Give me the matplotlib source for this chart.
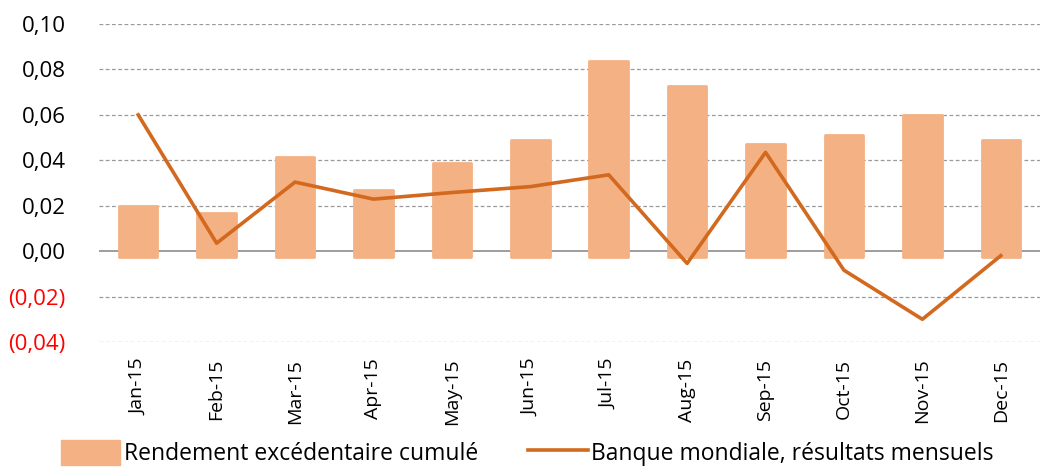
import numpy as np
import matplotlib.pyplot as plt
from matplotlib.lines import Line2D
from matplotlib.patches import Patch

plt.rcParams['font.family'] = ['Open Sans', 'DejaVu Sans']

months = ['Jan-15', 'Feb-15', 'Mar-15', 'Apr-15', 'May-15', 'Jun-15',
          'Jul-15', 'Aug-15', 'Sep-15', 'Oct-15', 'Nov-15', 'Dec-15']
cumul = [0.020, 0.017, 0.0414, 0.027, 0.0387, 0.049,
         0.0837, 0.0727, 0.047, 0.051, 0.060, 0.049]
mensuel = [0.060, 0.0035, 0.0304, 0.0229, 0.0258, 0.0284,
           0.0336, -0.0054, 0.0435, -0.0084, -0.030, -0.002]
yticks = [-0.04, -0.02, 0.0, 0.02, 0.04, 0.06, 0.08, 0.10]

bar_col = '#F4B183'
line_col = '#D2691E'

fig = plt.figure(figsize=(10.44, 4.68), dpi=100)
ax = fig.add_axes([99 / 1044, 1 - 342 / 468, (1040 - 99) / 1044, (342 - 24) / 468])

x = np.arange(len(months))
base = -0.0024  # bars hang a little below zero in the original
ax.bar(x, np.array(cumul) - base, bottom=base, width=0.49, color=bar_col,
       edgecolor=bar_col, linewidth=2, joinstyle='round', zorder=2)
ax.plot(x, mensuel, color=line_col, lw=2.6, zorder=3)

ax.set_xlim(-0.5, len(months) - 0.5)
ax.set_ylim(-0.04, 0.10)
ax.set_yticks(yticks)
ax.set_yticklabels([f'({abs(v):.2f})'.replace('.', ',') if v < 0
                    else f'{v:.2f}'.replace('.', ',') for v in yticks], fontsize=16)
for lab, v in zip(ax.get_yticklabels(), yticks):
    if v < 0:
        lab.set_color('#FF0000')
ax.set_xticks(x)
ax.set_xticklabels(months, rotation=90, fontsize=14)
ax.tick_params(axis='both', length=0)
ax.tick_params(axis='y', pad=24)
ax.tick_params(axis='x', pad=12)

for s in ax.spines.values():
    s.set_visible(False)
for v in yticks:
    if v == 0:
        ax.axhline(0, color='#8c8c8c', lw=1.2, zorder=1)
    else:
        ax.axhline(v, color='#9a9a9a', lw=0.9, ls=(0, (3, 2)), zorder=1)

handles = [Patch(facecolor=bar_col, edgecolor=bar_col),
           Line2D([0], [0], color=line_col, lw=2.6)]
fig.legend(handles, ['Rendement excédentaire cumulé', 'Banque mondiale, résultats mensuels'],
           loc='lower center', bbox_to_anchor=(0.505, -0.04), ncol=2, frameon=False,
           fontsize=16.5, handlelength=2.6, handleheight=1.3, columnspacing=2.2,
           handletextpad=0.15)

fig.savefig('out.png', dpi=100)
